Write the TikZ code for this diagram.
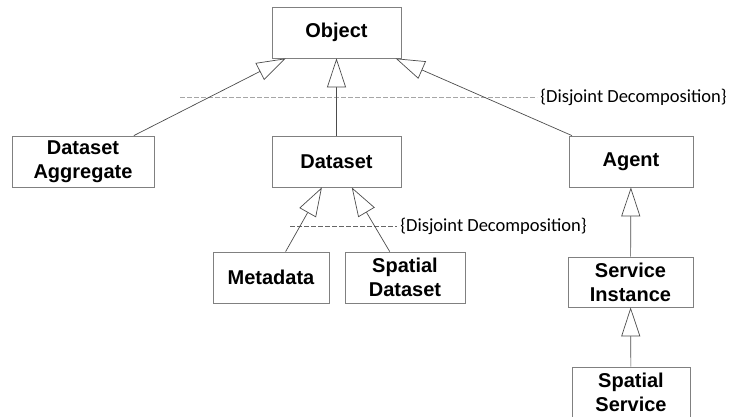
\documentclass[tikz,border=0pt]{standalone}
\usepackage{fontspec}
\setmainfont{Liberation Sans}
\newfontfamily\notefont{Carlito}
\usetikzlibrary{arrows.meta}

\begin{document}
\begin{tikzpicture}
  [x=1pt,y=-1pt,
   every node/.style={draw=black!50,line width=.8pt,minimum height=51pt,
     align=center,font=\bfseries\fontsize{20}{24}\selectfont},
   isa/.style={draw=black!70,line width=.7pt,
     -{Triangle[open,length=29pt,width=19pt,fill=white]}},
   decomp/.style={line width=.8pt,dash pattern=on 5pt off 2pt},
   note/.style={draw=none,minimum height=0pt,anchor=west,inner sep=3pt,
     font=\notefont\fontsize{18.5}{22}\selectfont}]
  \useasboundingbox (0,0) rectangle (731,417);

  \node[minimum width=129pt] (obj)   at (336.5,32.5)  {Object};
  \node[minimum width=142pt] (agg)   at (83,161.5)    {Dataset\\Aggregate};
  \node[minimum width=129pt] (ds)    at (336.5,161.5) {Dataset};
  \node[minimum width=124pt] (agent) at (631,161.5)   {Agent};
  \node[minimum width=116pt] (meta)  at (271,277.5)   {Metadata};
  \node[minimum width=120pt] (sds)   at (405,277.5)   {Spatial\\Dataset};
  \node[minimum width=125pt,minimum height=50pt] (sinst) at (630.5,282) {Service\\Instance};
  \node[minimum width=118pt] (ssrv)  at (631,392.5)   {Spatial\\Service};

  % disjoint decompositions
  \node[note] (note1) at (537,97)  {\{Disjoint Decomposition\}};
  \node[note] (note2) at (397,226) {\{Disjoint Decomposition\}};
  \coordinate (d1) at (180,97);
  \coordinate (d2) at (290,226);
  \draw[decomp,draw=black!35] (d1) -- (note1);
  \draw[decomp,draw=black!60] (d2) -- (note2);

  \foreach \from/\to in {agg/obj,ds/obj,agent/obj,meta/ds,sds/ds,sinst/agent,ssrv/sinst}
    \draw[isa] (\from) -- (\to);

\end{tikzpicture}
\end{document}
